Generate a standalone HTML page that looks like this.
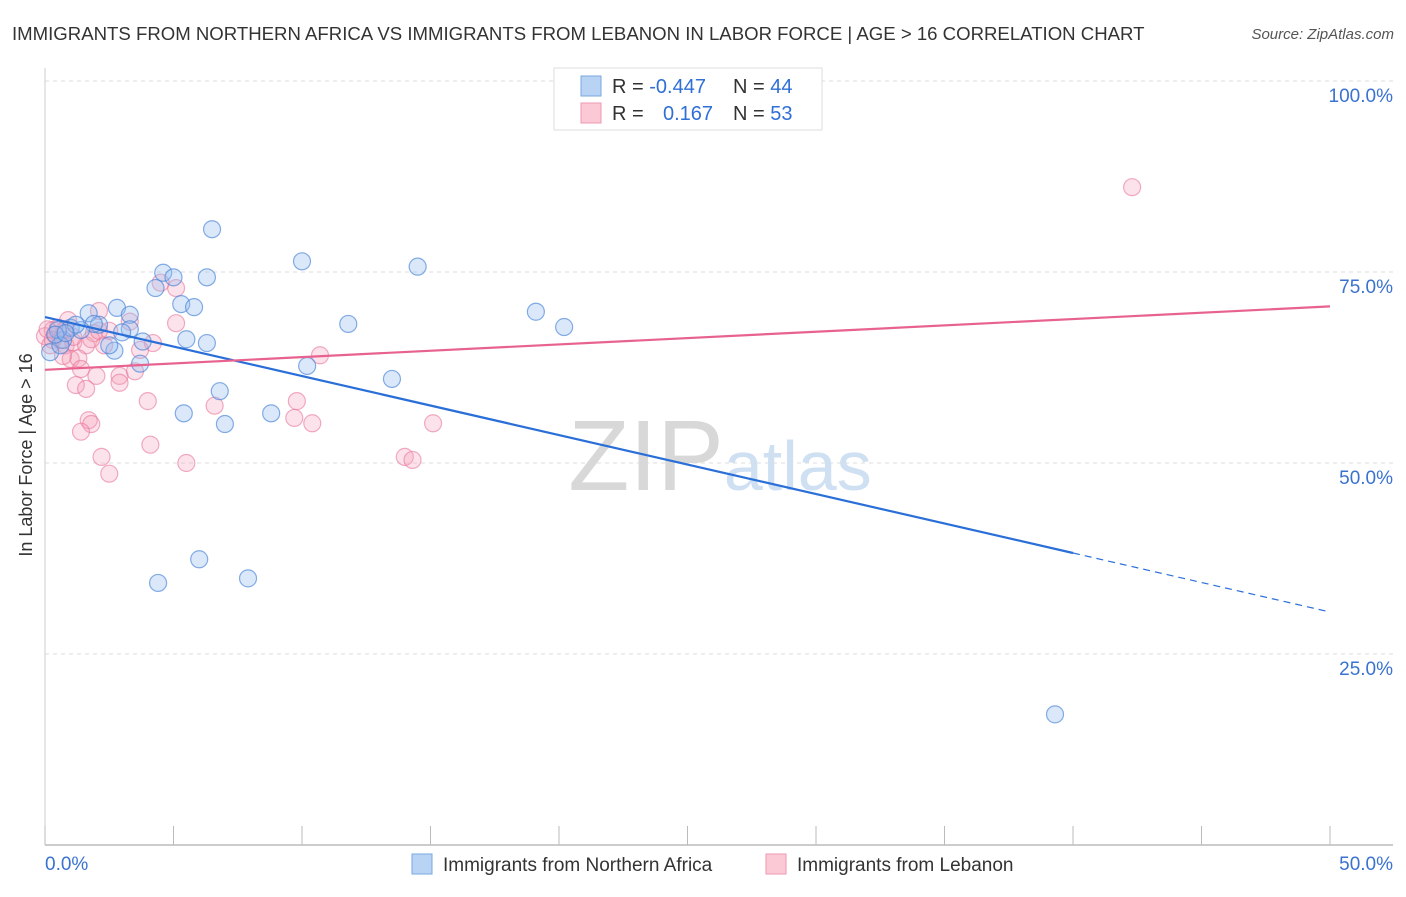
<!DOCTYPE html>
<html><head><meta charset="utf-8"><style>
body{margin:0;background:#fff;font-family:"Liberation Sans",sans-serif}
svg text{font-family:"Liberation Sans",sans-serif}
</style></head><body>
<svg width="1406" height="892" xmlns="http://www.w3.org/2000/svg">
<text x="12" y="40" font-size="18.6" fill="#333">IMMIGRANTS FROM NORTHERN AFRICA VS IMMIGRANTS FROM LEBANON IN LABOR FORCE | AGE &gt; 16 CORRELATION CHART</text>
<text x="1394" y="39" font-size="15" fill="#555" font-style="italic" text-anchor="end">Source: ZipAtlas.com</text>
<text x="32" y="455" font-size="18" fill="#333" text-anchor="middle" transform="rotate(-90 32 455)">In Labor Force | Age &gt; 16</text>
<g id="grid"></g>
<text x="720" y="490" font-size="100" fill="#ddd" text-anchor="middle" font-family="Liberation Serif"><tspan fill="#d8d8d8">ZIP</tspan><tspan fill="#cfe0f3" font-family="Liberation Sans" font-size="70">atlas</tspan></text>
<g id="pts"></g>
<g id="lines"></g>
<g>
<rect x="554" y="68" width="268" height="62" fill="#fff" stroke="#ddd"/>
<rect x="581" y="76" width="20" height="20" fill="#b9d3f5" stroke="#7aa7e0"/>
<rect x="581" y="103" width="20" height="20" fill="#fbc8d6" stroke="#ec9ab3"/>
<text x="612" y="93" font-size="20" fill="#333">R = <tspan fill="#2f6fd6">-0.447</tspan><tspan x="733">N = </tspan><tspan fill="#2f6fd6">44</tspan></text>
<text x="612" y="120" font-size="20" fill="#333">R = <tspan x="663" fill="#2f6fd6">0.167</tspan><tspan x="733">N = </tspan><tspan fill="#2f6fd6">53</tspan></text>
</g>
<g>
<rect x="412" y="854" width="20" height="20" fill="#b9d3f5" stroke="#7aa7e0"/>
<text x="443" y="871" font-size="19" fill="#333">Immigrants from Northern Africa</text>
<rect x="766" y="854" width="20" height="20" fill="#fbc8d6" stroke="#ec9ab3"/>
<text x="797" y="871" font-size="19" fill="#333">Immigrants from Lebanon</text>
</g>
</svg>
<script>
const yTicks=[25,50,75,100];
const xTickLabels=["0.0%","50.0%"];
const blueX=[6.5,10.0,14.5,4.6,5.0,6.3,4.3,5.3,5.8,1.7,2.8,3.3,19.1,11.8,20.2,2.1,1.9,3.3,3.0,5.5,3.8,6.3,2.7,0.7,1.0,1.4,0.2,3.7,10.2,13.5,6.8,5.4,8.8,7.0,6.0,4.4,7.9,39.3,0.5,0.6,1.2,2.5,0.4,0.8];
const blueY=[80.6,76.4,75.7,74.9,74.3,74.3,72.9,70.8,70.4,69.6,70.3,69.4,69.8,68.2,67.8,68.1,68.2,67.5,67.1,66.2,65.9,65.7,64.7,66.1,67.7,67.4,64.5,63.0,62.7,61.0,59.4,56.5,56.5,55.1,37.4,34.3,34.9,17.1,67.4,65.4,68.1,65.4,66.8,67.0];
const pinkX=[42.3,5.1,4.5,2.1,3.3,5.1,0.9,0.3,0.4,0.6,0.8,1.1,1.6,1.9,2.3,4.2,10.7,1.0,1.3,1.4,2.0,2.9,3.5,2.9,1.2,1.6,4.0,6.6,9.8,1.7,1.8,9.7,10.4,15.1,1.4,4.1,2.2,14.0,14.3,5.5,2.5,0.0,0.2,0.5,0.7,1.8,2.5,3.7,0.1,0.3,0.8,1.1,2.1];
const pinkY=[86.1,72.9,73.6,69.9,68.5,68.3,68.7,67.4,66.8,66.1,65.4,65.8,65.4,67.0,65.4,65.7,64.1,63.6,63.7,62.3,61.4,61.4,62.0,60.5,60.2,59.7,58.1,57.5,58.1,55.6,55.1,55.9,55.2,55.2,54.1,52.4,50.8,50.8,50.4,50.0,48.6,66.6,65.4,67.7,64.0,66.2,67.3,64.8,67.5,66.1,67.5,66.5,67.3];
const blueTrend=[69.1,30.5], blueSolidEnd=40;
const pinkTrend=[62.2,70.5];
const NS="http://www.w3.org/2000/svg";
const X=v=>45+v/50*1285, Y=v=>845-v/100*764;
function mk(t,a,p){const e=document.createElementNS(NS,t);for(const k in a)e.setAttribute(k,a[k]);p.appendChild(e);return e;}
const g=document.getElementById('grid');
yTicks.forEach(t=>{
 const l=mk('line',{x1:45,x2:1393,y1:Y(t),y2:Y(t),stroke:'#ddd','stroke-dasharray':'4,4'},g);
 
 
 const tx=mk('text',{x:1393,y:Y(t)+21,'font-size':19,fill:'#3a72d0','text-anchor':'end'},g);
 tx.textContent=t.toFixed(1)+'%';
 
 
});
const ax=mk('line',{x1:45,x2:1393,y1:845,y2:845,stroke:'#bbb','stroke-width':1.5},g);


const ay=mk('line',{x1:45,x2:45,y1:68,y2:845,stroke:'#ccc'},g);


for(let i=0;i<=10;i++){
 const tk=mk('line',{x1:X(i*5),x2:X(i*5),y1:826,y2:845,stroke:'#bbb'},g);
 
 
}
const t0=mk('text',{x:45,y:870,'font-size':19,fill:'#3a72d0'},g);t0.textContent=xTickLabels[0];


const t1=mk('text',{x:1393,y:870,'font-size':19,fill:'#3a72d0','text-anchor':'end'},g);t1.textContent=xTickLabels[1];


const p=document.getElementById('pts');
pinkX.forEach((x,i)=>{const c=mk('circle',{cx:X(x),cy:Y(pinkY[i]),r:8.5,fill:'rgba(246,160,185,0.3)',stroke:'rgba(232,120,155,0.6)','stroke-width':1.2},p);
 
 });
blueX.forEach((x,i)=>{const c=mk('circle',{cx:X(x),cy:Y(blueY[i]),r:8.5,fill:'rgba(150,190,240,0.35)',stroke:'rgba(70,130,215,0.65)','stroke-width':1.2},p);
 
 });
const L=document.getElementById('lines');
const by=x=>blueTrend[0]+(blueTrend[1]-blueTrend[0])*x/50;
const b1=mk('line',{x1:X(0),y1:Y(by(0)),x2:X(blueSolidEnd),y2:Y(by(blueSolidEnd)),stroke:'#2a6fd8','stroke-width':2.2},L);


const b2=mk('line',{x1:X(blueSolidEnd),y1:Y(by(blueSolidEnd)),x2:X(50),y2:Y(by(50)),stroke:'#2a6fd8','stroke-width':1.2,'stroke-dasharray':'7,5'},L);


const pl=mk('line',{x1:X(0),y1:Y(pinkTrend[0]),x2:X(50),y2:Y(pinkTrend[1]),stroke:'#e8628f','stroke-width':2.2},L);


</script>
</body></html>
